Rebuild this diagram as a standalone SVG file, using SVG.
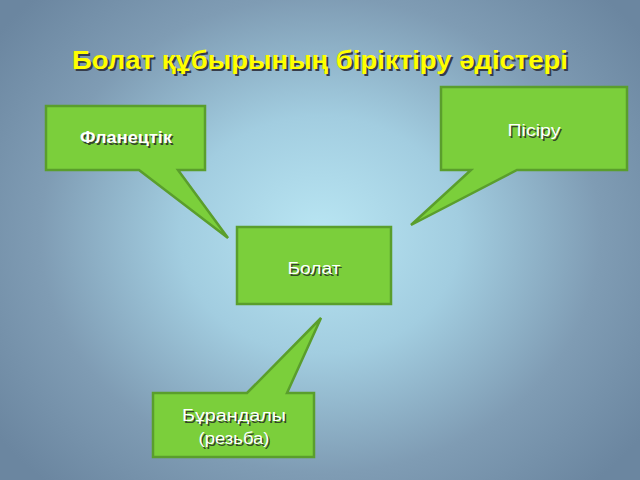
<svg xmlns="http://www.w3.org/2000/svg" width="640" height="480" viewBox="0 0 640 480">
  <defs>
    <radialGradient id="bg" cx="320" cy="235" r="400" gradientUnits="userSpaceOnUse" gradientTransform="translate(320 235) scale(1 0.85) translate(-320 -235)">
      <stop offset="0" stop-color="#b9e6f3"/>
      <stop offset="0.35" stop-color="#a2cde0"/>
      <stop offset="0.7" stop-color="#7f9cb4"/>
      <stop offset="1" stop-color="#6b86a0"/>
    </radialGradient>
    <style>
      .call { fill: #7bcf3b; stroke: #5a9e2c; stroke-width: 2.5; stroke-linejoin: miter; }
      .lbl { font-family: "Liberation Sans", Arial, sans-serif; font-size: 16px; fill: #ffffff; text-anchor: middle; }
      .sh { fill: #35452a; }
      .title { font-family: "Liberation Sans", Arial, sans-serif; font-size: 26px; font-weight: bold; text-anchor: middle; }
    </style>
  </defs>
  <rect x="0" y="0" width="640" height="480" fill="url(#bg)"/>

  <g id="title">
    <text class="title" x="322" y="71" fill="#363c4a" textLength="496" lengthAdjust="spacingAndGlyphs">Болат құбырының біріктіру әдістері</text>
    <text class="title" x="320" y="69" fill="#ffff00" textLength="496" lengthAdjust="spacingAndGlyphs">Болат құбырының біріктіру әдістері</text>
  </g>

  <g id="connectors"></g>

  <g id="node-flanets">
    <path class="call" d="M46,106 H205 V170 H178 L228,238 L139,170 H46 Z"/>
    <text class="lbl sh" x="127.5" y="144.5" font-weight="bold" textLength="92" lengthAdjust="spacingAndGlyphs">Фланецтік</text>
    <text class="lbl" x="126" y="143" font-weight="bold" textLength="92" lengthAdjust="spacingAndGlyphs">Фланецтік</text>
  </g>

  <g id="node-pisiru">
    <path class="call" d="M441,87 H627 V170 H517 L411,225 L471,170 H441 Z"/>
    <text class="lbl sh" x="535.5" y="137.5" textLength="53" lengthAdjust="spacingAndGlyphs">Пісіру</text>
    <text class="lbl" x="534" y="136" textLength="53" lengthAdjust="spacingAndGlyphs">Пісіру</text>
  </g>

  <g id="node-bolat">
    <rect class="call" x="237" y="227" width="154" height="77"/>
    <text class="lbl sh" x="315.5" y="275.5" textLength="53" lengthAdjust="spacingAndGlyphs">Болат</text>
    <text class="lbl" x="314" y="274" textLength="53" lengthAdjust="spacingAndGlyphs">Болат</text>
  </g>

  <g id="node-burandaly">
    <path class="call" d="M153,393 H247 L321,318 L287,393 H314 V457 H153 Z"/>
    <text class="lbl sh" x="235.5" y="422.5" textLength="104" lengthAdjust="spacingAndGlyphs">Бұрандалы</text>
    <text class="lbl" x="234" y="421" textLength="104" lengthAdjust="spacingAndGlyphs">Бұрандалы</text>
    <text class="lbl sh" x="235.5" y="445.5" textLength="71" lengthAdjust="spacingAndGlyphs">(резьба)</text>
    <text class="lbl" x="234" y="444" textLength="71" lengthAdjust="spacingAndGlyphs">(резьба)</text>
  </g>
</svg>
